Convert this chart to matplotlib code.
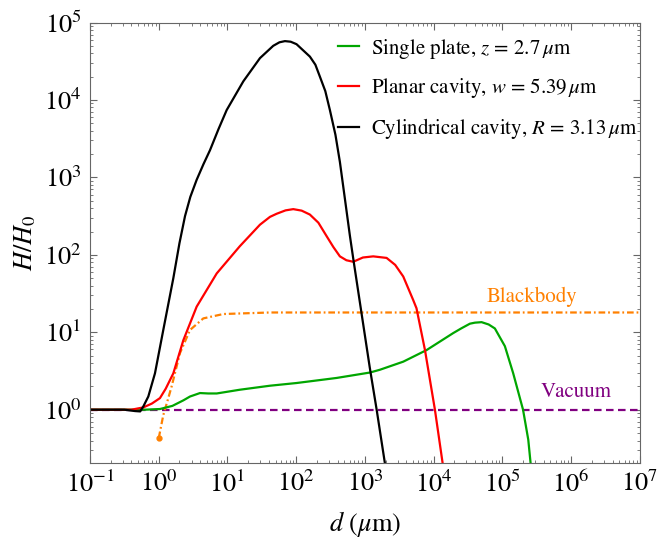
import numpy as np
import matplotlib
matplotlib.use("Agg")
import matplotlib.pyplot as plt
from matplotlib.ticker import LogLocator, NullFormatter

plt.rcParams['font.family'] = ['STIXGeneral', 'DejaVu Serif']
plt.rcParams['mathtext.fontset'] = 'stix'

# single plate, z = 2.7 um
d_plate = [0.1, 0.63, 1.04, 1.58, 2.28, 2.85, 3.98, 5.25, 6.97, 15.1, 41.5, 101, 387,
           1183, 1652, 3606, 7889, 19280, 25100, 33650, 39800, 49770, 63100, 77620,
           108600, 143500, 199500, 237700, 257000]
h_plate = [1.0, 1.0, 1.02, 1.12, 1.32, 1.48, 1.64, 1.62, 1.62, 1.81, 2.04, 2.21, 2.57,
           3.02, 3.28, 4.17, 5.89, 9.77, 11.2, 12.9, 13.3, 13.5, 12.6, 11.2,
           6.61, 2.95, 1.0, 0.41, 0.204]

# planar cavity, w = 5.39 um
d_planar = [0.1, 0.4, 0.596, 0.794, 1.04, 1.26, 1.63, 2.28, 3.56, 6.97, 15.1, 29.7,
            41.5, 51.9, 70, 90.6, 120, 158, 210, 277, 347, 432, 537, 676, 933, 1318,
            2065, 2754, 3606, 5012, 5623, 7464, 10420, 13490]
h_planar = [1.0, 1.0, 1.07, 1.2, 1.41, 1.86, 2.95, 7.9, 21.4, 57.5, 129, 245,
            309, 339, 375, 389, 372, 331, 260, 174, 126, 95.5, 85.1, 81.3, 92.3, 95.5,
            91.2, 74.1, 52.5, 26.3, 20.4, 5.9, 1.0, 0.204]

# cylindrical cavity, R = 3.13 um
d_cyl = [0.1, 0.316, 0.452, 0.537, 0.596, 0.705, 0.881, 1.164, 1.63, 2.0, 2.41, 2.88,
         3.56, 4.47, 5.56, 7.4, 9.73, 17.0, 29.7, 46.3, 57, 68.5, 83, 101, 158, 190,
         221, 265, 309, 372, 432, 501, 603, 676, 1175, 1480, 1950]
h_cyl = [1.0, 1.0, 0.96, 0.95, 1.1, 1.48, 2.95, 10.7, 50, 141, 316, 560,
         930, 1480, 2240, 4200, 7400, 17400, 34700, 50000, 55500, 57500, 56500, 52500,
         36300, 28500, 20000, 13000, 7400, 3550, 1580, 600, 178, 89, 3.5, 1.0, 0.204]

# blackbody limit
d_bb = [1.0, 1.164, 1.32, 1.54, 2.04, 2.85, 4.45, 8.71, 41.7, 1e7]
h_bb = [0.43, 0.85, 1.24, 2.0, 5.4, 10.7, 15.1, 17.2, 18.0, 18.0]

d_vac = [0.1, 1e7]
h_vac = [1.0, 1.0]

fig = plt.figure(figsize=(6.59, 5.41), dpi=100)
ax = fig.add_axes([0.1366, 0.1442, 0.8344, 0.8142])

orange = (1.0, 0.5, 0.0)
purple = (0.5, 0.0, 0.5)

ax.plot(d_vac, h_vac, color=purple, lw=1.6, linestyle=(0, (3.4, 2.0)))
ax.plot(d_bb, h_bb, color=orange, lw=1.6, linestyle=(0, (3.0, 1.3, 0.8, 1.3)))
ax.plot(d_bb[:1], h_bb[:1], 'o', color=orange, ms=3.5)
ax.plot(d_plate, h_plate, color=(0.0, 0.65, 0.0), lw=1.6, label=r'Single plate, $z$ = 2.7$\,\mu$m')
ax.plot(d_planar, h_planar, color=(1.0, 0.0, 0.0), lw=1.6, label=r'Planar cavity, $w$ = 5.39$\,\mu$m')
ax.plot(d_cyl, h_cyl, color='black', lw=1.6, label=r'Cylindrical cavity, $R$ = 3.13$\,\mu$m')

ax.text(2.7e5, 21, 'Blackbody', color=orange, fontsize=15, ha='center', va='bottom')
ax.text(1.2e6, 1.25, 'Vacuum', color=purple, fontsize=15, ha='center', va='bottom')

ax.set_xscale('log')
ax.set_yscale('log')
ax.set_xlim(0.1, 1e7)
ax.set_ylim(0.205, 1e5)

for axis in (ax.xaxis, ax.yaxis):
    axis.set_major_locator(LogLocator(base=10, numticks=20))
    axis.set_minor_locator(LogLocator(base=10, subs=np.arange(2, 10), numticks=200))
    axis.set_minor_formatter(NullFormatter())

ax.tick_params(which='both', direction='in', top=True, right=True, color='#666666',
               labelsize=19, pad=6)
ax.tick_params(which='major', length=5)
ax.tick_params(which='minor', length=2.5)
for sp in ax.spines.values():
    sp.set_color('#666666')

ax.set_xlabel(r'$d$ ($\mu$m)', fontsize=19, labelpad=8)
ax.set_ylabel(r'$H/H_0$', fontsize=19, labelpad=4)

ax.legend(loc='upper left', bbox_to_anchor=(0.451, 0.968), frameon=False, fontsize=15,
          handlelength=1.0, handletextpad=0.6, labelspacing=0.75, borderpad=0,
          borderaxespad=0)

fig.savefig('out.png', dpi=100)
